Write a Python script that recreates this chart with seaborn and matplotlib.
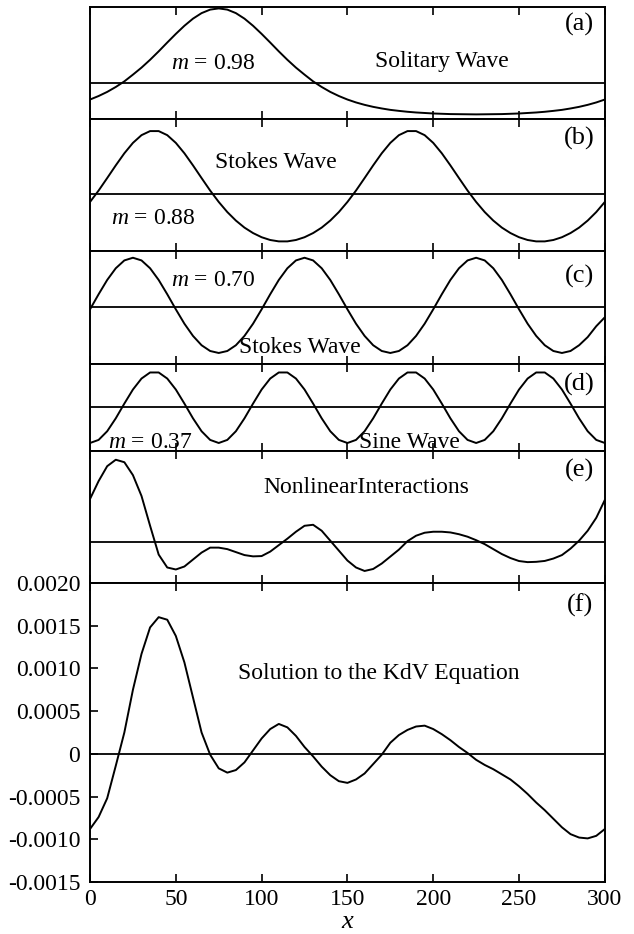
import numpy as np
import seaborn as sns
import matplotlib.pyplot as plt

# x positions along the channel (every 5 units)
x_pos = np.arange(0, 301, 5)

# (a) solitary wave, m = 0.98  (arbitrary amplitude units)
wave_a = [-16.8, -13.3, -9.2, -4.3, 1.3, 8.0, 15.0, 22.8, 31.2, 40.0, 48.6, 56.7, 63.8, 69.3, 72.8, 74.0,
          72.8, 69.3, 63.8, 56.7, 48.6, 40.0, 31.2, 22.8, 15.0, 8.0, 1.3, -4.3, -9.2, -13.3, -16.8,
          -19.7, -22.1, -24.1, -25.7, -27.1, -28.1, -29.0, -29.7, -30.2, -30.7, -31.0, -31.3, -31.4, -31.5,
          -31.6, -31.5, -31.4, -31.3, -31.0, -30.7, -30.2, -29.7, -29.0, -28.1, -27.1, -25.7, -24.1, -22.1,
          -19.7, -16.8]

# (b) Stokes wave, m = 0.88
wave_b = [-8.0, 3.5, 16.1, 28.9, 41.1, 51.6, 59.4, 63.5, 63.5, 59.4, 51.6, 41.1, 28.9, 16.1, 3.5,
          -8.0, -18.2, -26.8, -33.9, -39.4, -43.6, -46.4, -47.8, -47.8, -46.4, -43.6, -39.4, -33.9, -26.8, -18.2,
          -8.0, 3.5, 16.1, 28.9, 41.1, 51.6, 59.4, 63.5, 63.5, 59.4, 51.6, 41.1, 28.9, 16.1, 3.5,
          -8.0, -18.2, -26.8, -33.9, -39.4, -43.6, -46.4, -47.8, -47.8, -46.4, -43.6, -39.4, -33.9, -26.8, -18.2,
          -8.0]

# (c) Stokes wave, m = 0.70
wave_c = [-2.0, 13.2, 27.6, 39.4, 47.3, 50.0, 47.3, 39.4, 27.6, 13.2,
          -2.0, -16.5, -28.8, -38.2, -44.0, -46.0, -44.0, -38.2, -28.8, -16.5,
          -2.0, 13.2, 27.6, 39.4, 47.3, 50.0, 47.3, 39.4, 27.6, 13.2,
          -2.0, -16.5, -28.8, -38.2, -44.0, -46.0, -44.0, -38.2, -28.8, -16.5,
          -2.0, 13.2, 27.6, 39.4, 47.3, 50.0, 47.3, 39.4, 27.6, 13.2,
          -2.0, -16.5, -28.8, -38.2, -44.0, -46.0, -44.0, -38.2, -30.0, -19.0,
          -10.0]

# (d) sine wave, m = 0.37
wave_d = [-37.0, -33.8, -24.8, -11.4, 3.9, 18.5, 29.9, 36.2, 36.2, 29.9, 18.5, 3.9, -11.4, -24.8, -33.8,
          -37.0, -33.8, -24.8, -11.4, 3.9, 18.5, 29.9, 36.2, 36.2, 29.9, 18.5, 3.9, -11.4, -24.8, -33.8,
          -37.0, -33.8, -24.8, -11.4, 3.9, 18.5, 29.9, 36.2, 36.2, 29.9, 18.5, 3.9, -11.4, -24.8, -33.8,
          -37.0, -33.8, -24.8, -11.4, 3.9, 18.5, 29.9, 36.2, 36.2, 29.9, 18.5, 3.9, -11.4, -24.8, -33.8,
          -37.0]

# (e) nonlinear interactions
wave_e = [43, 61, 76, 82.5, 80, 67, 46, 16, -13, -26, -28, -25, -18, -11, -6, -6, -7.5, -10.5, -13.5, -14.8,
          -14.5, -10, -3.5, 3, 10, 16, 17, 11, 1, -9, -19, -26, -29.5, -27.5, -22, -15, -8, 0.5, 6, 9,
          10, 10, 9.3, 7.5, 5, 1.5, -2.5, -7.5, -12.5, -16.5, -19.5, -20.6, -20.3, -19.4, -17, -13.5, -7, 1,
          11, 24, 42]

# (f) solution to the KdV equation
kdv_f = [-0.00088, -0.00074, -0.00052, -0.00014, 0.00025, 0.00075, 0.00117, 0.00148, 0.00160, 0.00157,
         0.00138, 0.00107, 0.00066, 0.00025, -0.00001, -0.00017, -0.00022, -0.00019, -0.00010, 0.00004,
         0.00018, 0.00029, 0.00035, 0.00031, 0.00021, 0.00008, -0.00003, -0.00015, -0.00025, -0.00032,
         -0.00034, -0.00030, -0.00023, -0.00012, -0.00001, 0.00013, 0.00022, 0.00028, 0.00032, 0.00033,
         0.00029, 0.00023, 0.00016, 0.00008, 0.00001, -0.00007, -0.00013, -0.00018, -0.00024, -0.00030,
         -0.00038, -0.00047, -0.00057, -0.00066, -0.00076, -0.00086, -0.00094, -0.00098, -0.00099, -0.00096,
         -0.00088]

x_ticks = [0, 50, 100, 150, 200, 250, 300]
x_tick_labels = ['0', '50', '100', '150', '200', '250', '300']
f_ticks = [0.0020, 0.0015, 0.0010, 0.0005, 0.0, -0.0005, -0.0010, -0.0015]
f_tick_labels = ['0.0020', '0.0015', '0.0010', '0.0005', '0', '-0.0005', '-0.0010', '-0.0015']

panel_tags = ['(a)', '(b)', '(c)', '(d)', '(e)', '(f)']

sns.set_theme(style='ticks', rc={'axes.edgecolor': 'black', 'xtick.color': 'black',
                                 'ytick.color': 'black', 'text.color': 'black',
                                 'axes.labelcolor': 'black'})
plt.rcParams['font.family'] = ['Liberation Serif', 'DejaVu Serif']
plt.rcParams['mathtext.fontset'] = 'custom'
plt.rcParams['mathtext.rm'] = 'Liberation Serif'
plt.rcParams['mathtext.it'] = 'Liberation Serif:italic'

fig = plt.figure(figsize=(6.34, 9.34), dpi=100)
gs = fig.add_gridspec(6, 1, height_ratios=[112, 132, 113, 87, 132, 299], hspace=0,
                      left=0.142, right=0.954, top=0.9925, bottom=0.0557)
axes = [fig.add_subplot(gs[i]) for i in range(6)]

series = [wave_a, wave_b, wave_c, wave_d, wave_e, kdv_f]
ylims = [(-36.2, 75.4), (-57.5, 75.7), (-57.1, 56.8), (-45.3, 45.0), (-41.6, 91.3), (-0.0015, 0.0020)]
tag_y = [0.848, 0.85, 0.779, 0.77, 0.856, 0.926]

for ax, ys, ylim, tag, ty in zip(axes, series, ylims, panel_tags, tag_y):
    sns.lineplot(x=x_pos, y=ys, ax=ax, color='black', linewidth=1.4,
                 solid_joinstyle='round', solid_capstyle='round')
    ax.axhline(0, color='black', linewidth=1.3)
    ax.set_xlim(0, 300)
    ax.set_ylim(ylim)
    ax.set_xticks(x_ticks)
    ax.tick_params(axis='x', direction='in', top=True, bottom=True, length=6, width=1.2)
    for sp in ax.spines.values():
        sp.set_linewidth(1.4)
        sp.set_color('black')
    ax.set_xlabel('')
    ax.set_ylabel('')
    ax.text(0.951, ty, tag, transform=ax.transAxes, ha='center', va='center', fontsize=19)
    if ax is not axes[-1]:
        ax.set_yticks([])
        ax.tick_params(labelbottom=False)

ax_f = axes[-1]
ax_f.set_yticks(f_ticks)
ax_f.set_yticklabels(f_tick_labels)
ax_f.set_xticklabels(x_tick_labels)
ax_f.tick_params(axis='y', direction='in', left=True, right=False, length=6, width=1.2, pad=7, labelsize=17)
ax_f.tick_params(axis='x', pad=5, labelsize=17)
ax_f.set_xlabel('$x$', fontsize=19, labelpad=1)

txt = dict(ha='center', va='center', fontsize=17)
axes[0].text(0.239, 0.50, '$m$ = 0.98', transform=axes[0].transAxes, **txt)
axes[0].text(0.683, 0.51, 'Solitary Wave', transform=axes[0].transAxes, **txt)
axes[1].text(0.361, 0.669, 'Stokes Wave', transform=axes[1].transAxes, **txt)
axes[1].text(0.122, 0.248, '$m$ = 0.88', transform=axes[1].transAxes, **txt)
axes[2].text(0.239, 0.735, '$m$ = 0.70', transform=axes[2].transAxes, **txt)
axes[2].text(0.408, 0.142, 'Stokes Wave', transform=axes[2].transAxes, **txt)
axes[3].text(0.117, 0.10, '$m$ = 0.37', transform=axes[3].transAxes, **txt)
axes[3].text(0.621, 0.10, 'Sine Wave', transform=axes[3].transAxes, **txt)
axes[4].text(0.536, 0.727, 'NonlinearInteractions', transform=axes[4].transAxes, **txt)
axes[5].text(0.561, 0.696, 'Solution to the KdV Equation', transform=axes[5].transAxes, **txt)

fig.savefig('out.png', dpi=100)
